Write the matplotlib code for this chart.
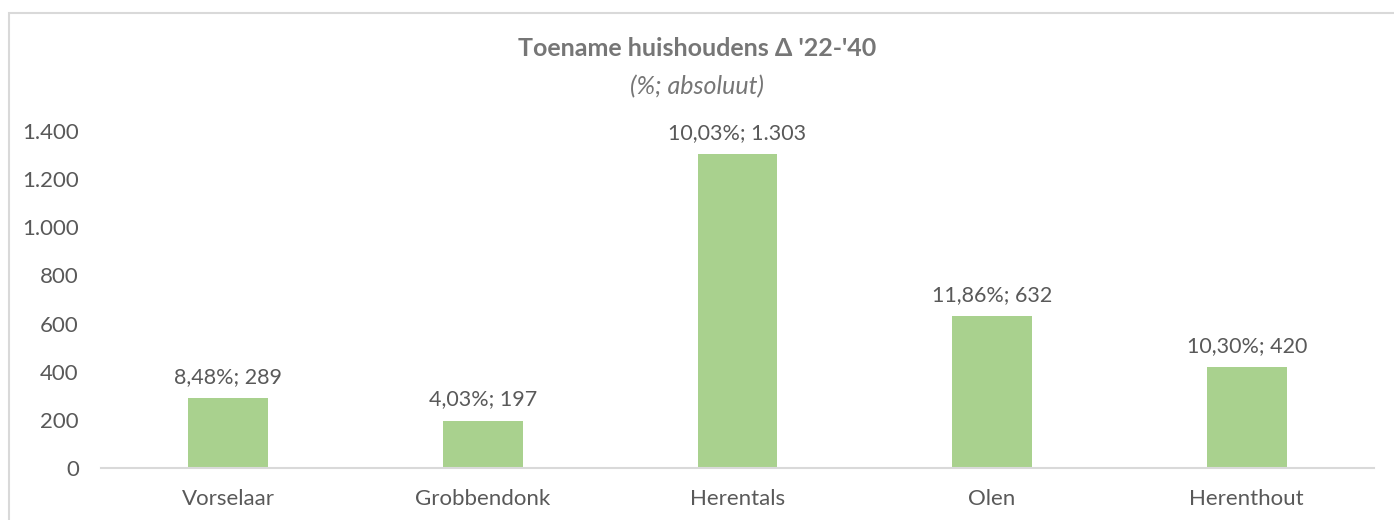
import matplotlib.pyplot as plt
from matplotlib.patches import Rectangle
from matplotlib.ticker import FuncFormatter

gemeenten = ['Vorselaar', 'Grobbendonk', 'Herentals', 'Olen', 'Herenthout']
toename_abs = [289, 197, 1303, 632, 420]
toename_pct = ['8,48%', '4,03%', '10,03%', '11,86%', '10,30%']
yticks = [0, 200, 400, 600, 800, 1000, 1200, 1400]

grey = '#595959'
plt.rcParams['font.family'] = ['Lato', 'DejaVu Sans']


def punt(v):
    # duizendtallen met een punt, zoals in Excel (nl-BE)
    return f'{int(v):,}'.replace(',', '.')


fig = plt.figure(figsize=(13.94, 5.2), dpi=100)
ax = fig.add_axes([101 / 1394, 52 / 520, 1273 / 1394, 337 / 520])

x = range(len(gemeenten))
bars = ax.bar(x, toename_abs, width=0.314, color='#A9D18E', zorder=2)

for b, pct, v in zip(bars, toename_pct, toename_abs):
    ax.annotate(f'{pct}; {punt(v)}',
                (b.get_x() + b.get_width() / 2, v), xytext=(0, 8),
                textcoords='offset points', ha='center', va='bottom',
                fontsize=15.5, color=grey)

ax.set_xlim(-0.5, len(gemeenten) - 0.5)
ax.set_ylim(0, 1400)
ax.set_yticks(yticks)
ax.yaxis.set_major_formatter(FuncFormatter(lambda v, p: punt(v)))
ax.set_xticks(list(x))
ax.set_xticklabels(gemeenten)
ax.tick_params(axis='both', length=0, labelsize=16, labelcolor=grey)
ax.tick_params(axis='x', pad=15)
ax.tick_params(axis='y', pad=16)
for side in ['top', 'right', 'left']:
    ax.spines[side].set_visible(False)
ax.spines['bottom'].set_color('#D9D9D9')
ax.spines['bottom'].set_linewidth(1.5)

fig.text(0.5, 1 - 49 / 520, "Toename huishoudens \u0394 '22-'40", ha='center', va='center',
         fontsize=18, fontweight='bold', color='#767676')
fig.text(0.5, 1 - 87 / 520, '(%; absoluut)', ha='center', va='center',
         fontsize=18, style='italic', color='#767676')

# kader rond de grafiek
fig.patches.append(Rectangle((9 / 1394, -0.05), 1.1, 1 - 13 / 520 + 0.05,
                             transform=fig.transFigure, fill=False,
                             edgecolor='#D9D9D9', linewidth=1.5))

fig.savefig('out.png', dpi=100)
